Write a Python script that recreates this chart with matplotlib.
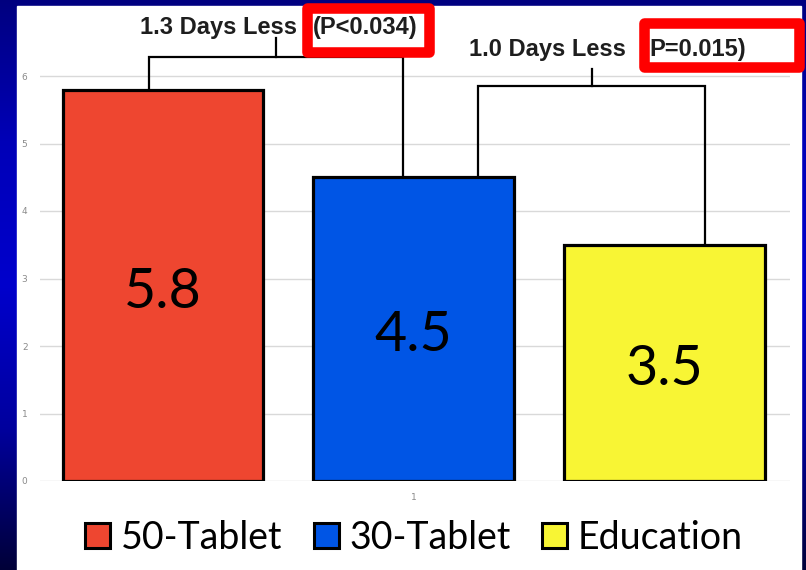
import numpy as np
import matplotlib.pyplot as plt
from matplotlib.patches import Rectangle, Patch

# data
groups = ["50-Tablet", "30-Tablet", "Education"]
days = [5.8, 4.5, 3.5]
value_labels = ["5.8", "4.5", "3.5"]
bar_colors = ["#EE4630", "#0055E5", "#F8F534"]

# comparisons: (left bar, right bar, text, p-value text)
comparisons = [
    (0, 1, "1.3 Days Less", "(P<0.034)"),
    (1, 2, "1.0 Days Less", "P=0.015)"),
]
yticks = [0, 1, 2, 3, 4, 5, 6]

# bracket styling (offsets in bar units / data units)
leg_offsets = [(-0.056, -0.044), (0.255, 0.163)]
bracket_y = [6.28, 5.85]
tick_h = [0.28, 0.25]
text_left = [-0.092, 1.219]
ptext_left = [0.598, 1.940]
text_base = [6.62, 6.30]
box_xy = [(0.576, 6.35, 0.484, 0.65), (1.918, 6.14, 0.618, 0.64)]

W, H = 806, 570
fig = plt.figure(figsize=(W / 100, H / 100), dpi=100)

# blue slide background + white panel
bg = fig.add_axes([0, 0, 1, 1])
grad = np.array([[0, 0, 0.50], [0, 0, 0.72], [0, 0, 0.80], [0, 0, 0.62], [0, 0, 0.22]])
t = np.linspace(0, 1, H)
img = np.stack([np.interp(t, np.linspace(0, 1, len(grad)), grad[:, c]) for c in range(3)], axis=-1)
img = np.repeat(img[:, None, :], 2, axis=1)
bg.imshow(img, extent=[0, W, H, 0], aspect="auto")
bg.add_patch(Rectangle((17, 6), 784, 564, color="white"))
bg.set_xlim(0, W)
bg.set_ylim(H, 0)
bg.axis("off")

ppu = 67.5  # pixels per y unit
ax = fig.add_axes([40 / W, 89 / H, 750 / W, 6.9 * ppu / H])
ax.set_facecolor("none")
x = np.arange(len(groups))
ax.bar(x, days, width=0.8, color=bar_colors, edgecolor="black", linewidth=2.3, zorder=3)
for xi, v, lab in zip(x, days, value_labels):
    ax.text(xi, v / 2 - 0.33, lab, ha="center", va="baseline", fontsize=40, family="Lato", zorder=4)

ax.set_xlim(-0.49, 2.5)
ax.set_ylim(0, 6.9)
ax.set_yticks(yticks)
ax.set_yticklabels([str(v) for v in yticks])
ax.set_xticks([1])
ax.set_xticklabels(["1"])
ax.tick_params(length=0, labelsize=6.5, labelcolor="#8a8a8a")
ax.tick_params(axis="y", pad=9)
ax.tick_params(axis="x", pad=9)
ax.yaxis.grid(True, color="#d9d9d9", linewidth=1)
ax.set_axisbelow(True)
for s in ax.spines.values():
    s.set_visible(False)

for k, (i, j, txt, ptxt) in enumerate(comparisons):
    xl = x[i] + leg_offsets[k][0]
    xr = x[j] + leg_offsets[k][1]
    yh = bracket_y[k]
    ax.plot([xl, xl, xr, xr], [days[i], yh, yh, days[j]], color="black", lw=1.6,
            clip_on=False, zorder=4, solid_joinstyle="miter")
    xm = (xl + xr) / 2
    ax.plot([xm, xm], [yh, yh + tick_h[k]], color="black", lw=1.6, clip_on=False, zorder=4)
    ax.text(text_left[k], text_base[k], txt, ha="left", va="baseline", fontsize=17,
            fontweight="bold", family="Liberation Sans", color="#1e1e1e", zorder=5, clip_on=False)
    ax.text(ptext_left[k], text_base[k], ptxt, ha="left", va="baseline", fontsize=17,
            fontweight="bold", family="Liberation Sans", color="#1e1e1e", zorder=5, clip_on=False)
    bx, by, bw, bh = box_xy[k]
    ax.add_patch(Rectangle((bx, by), bw, bh, fill=False, edgecolor="#FF0000", lw=7.6,
                           joinstyle="round", clip_on=False, zorder=6))

handles = [Patch(facecolor=c, edgecolor="black", linewidth=2.2, label=g)
           for g, c in zip(groups, bar_colors)]
fig.legend(handles=handles, loc="center", bbox_to_anchor=(414 / W, 1 - 538 / H), ncol=3,
           frameon=False, prop={"family": "Lato", "size": 27},
           handlelength=0.66, handleheight=0.66, handletextpad=0.28, columnspacing=0.85)

fig.savefig("out.png", dpi=100)
